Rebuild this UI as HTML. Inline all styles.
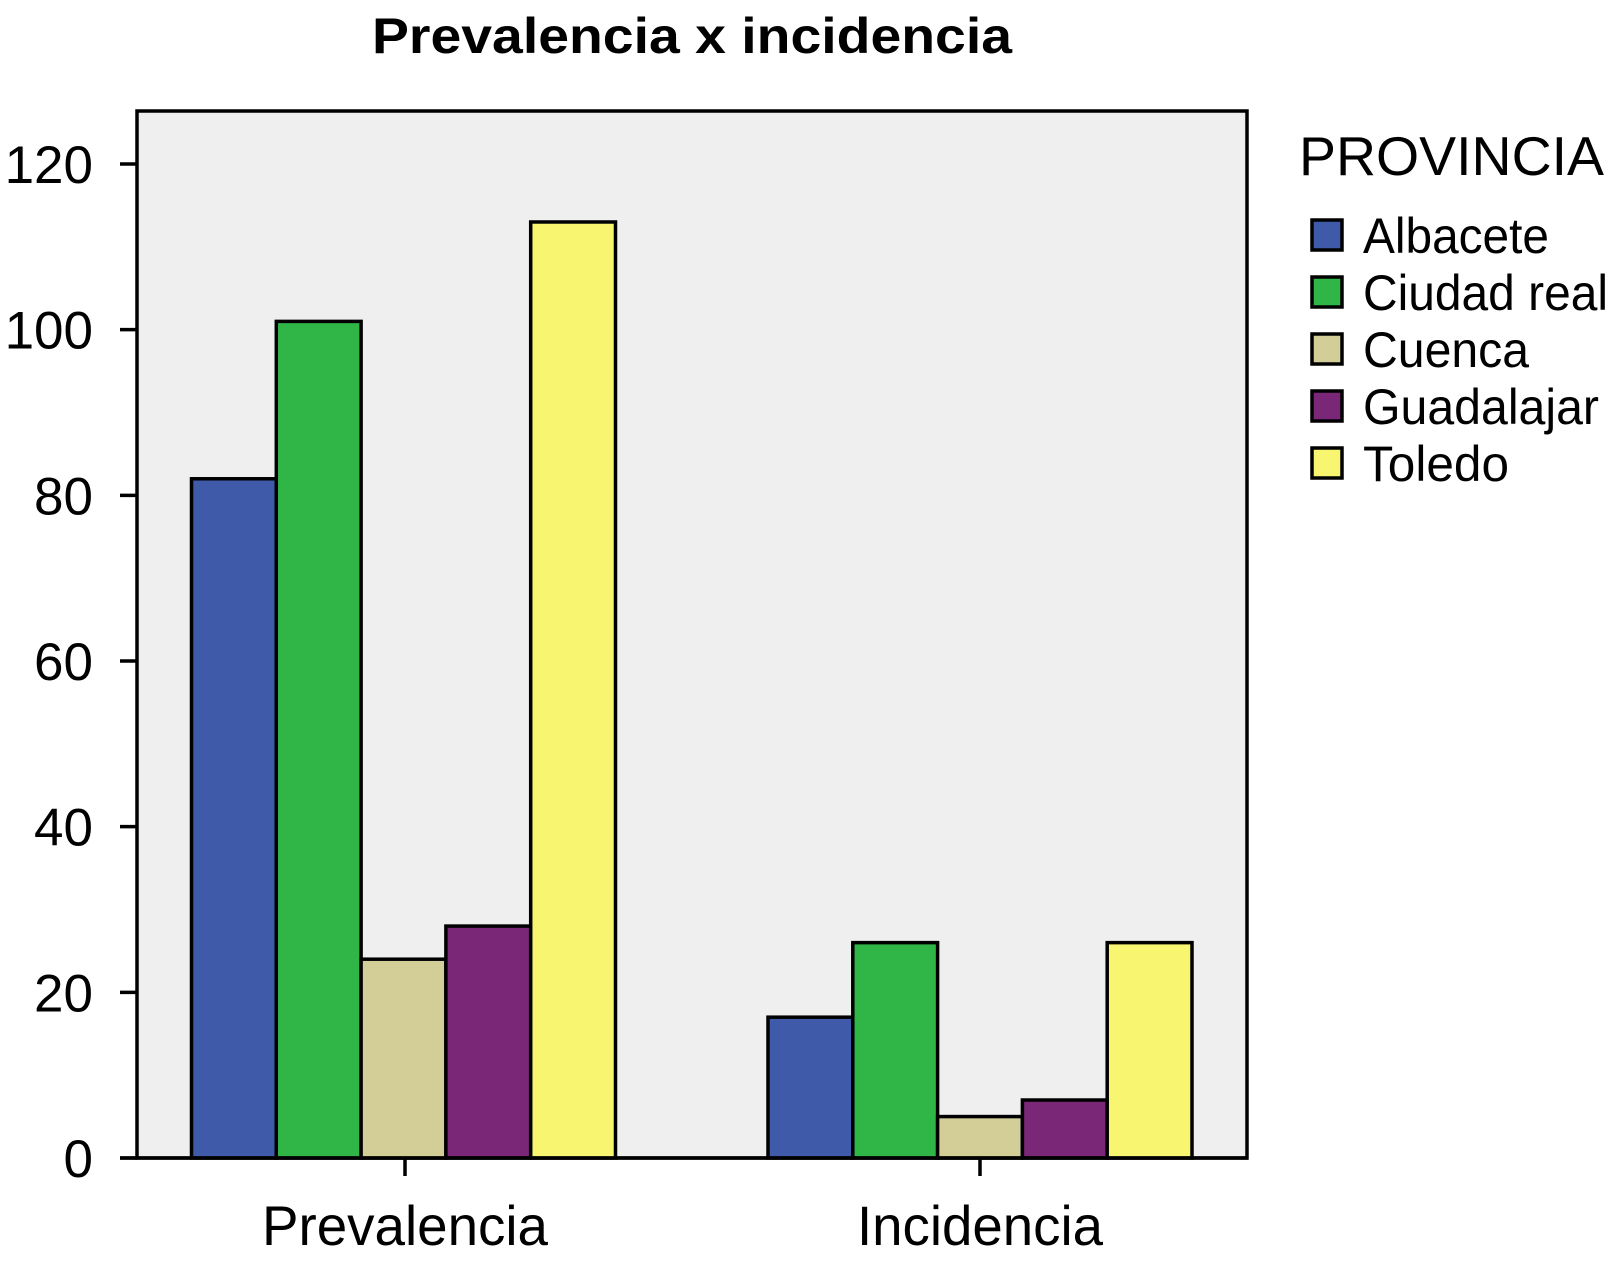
<!DOCTYPE html>
<html><head><meta charset="utf-8"><style>html,body{margin:0;padding:0;background:#fff}svg{display:block}text{font-family:"Liberation Sans",sans-serif;fill:#000}</style></head>
<body>
<svg id="chart" width="1611" height="1271" viewBox="0 0 1611 1271">
<text x="692" y="53" text-anchor="middle" font-size="50" font-weight="bold" textLength="640" lengthAdjust="spacingAndGlyphs">Prevalencia x incidencia</text>
<rect x="137" y="111" width="1110" height="1047" fill="#efefef" stroke="#000" stroke-width="3.5"/>
<g id="bars"></g>
<g id="axes"></g>
<g id="legend"></g>
</svg>
<script>
const categories = ["Prevalencia", "Incidencia"];
const series = ["Albacete", "Ciudad real", "Cuenca", "Guadalajar", "Toledo"];
const colors = ["#3f5aa9", "#30b646", "#d3ce98", "#7b2777", "#f8f570"];
const albacete = [82, 17];
const ciudadReal = [101, 26];
const cuenca = [24, 5];
const guadalajar = [28, 7];
const toledo = [113, 26];
const yTicks = [0, 20, 40, 60, 80, 100, 120];

const NS = "http://www.w3.org/2000/svg";
const values = [albacete, ciudadReal, cuenca, guadalajar, toledo];
const y0 = 1158, pxPerUnit = 994 / 120;
function yScale(v) { return y0 - v * pxPerUnit; }
const groupCenters = [405, 980];
const barW = 84.8;
function xBar(ci, si) { return groupCenters[ci] - barW * series.length / 2 + si * barW - 1.5 * (ci === 0 ? 1 : 0); }
function mk(tag, attrs, parent) {
  const e = document.createElementNS(NS, tag);
  for (const k in attrs) e.setAttribute(k, attrs[k]);
  parent.appendChild(e);
  return e;
}
const bars = document.getElementById("bars");
categories.forEach((c, ci) => {
  series.forEach((s, si) => {
    const v = values[si][ci];
    const r = mk("rect", { x: xBar(ci, si), y: yScale(v), width: barW, height: y0 - yScale(v), fill: colors[si], stroke: "#000", "stroke-width": 3.5 }, bars);
    
    
  });
});
const axes = document.getElementById("axes");
const xl = mk("line", { x1: 120, y1: y0, x2: 1248, y2: y0, stroke: "#000", "stroke-width": 3.5 }, axes);


yTicks.forEach(t => {
  const y = yScale(t);
  const l = mk("line", { x1: 120, y1: y, x2: 137, y2: y, stroke: "#000", "stroke-width": 3.5 }, axes);
  
  
  const tx = mk("text", { x: 93, y: y + 19, "text-anchor": "end", "font-size": 53 }, axes);
  tx.textContent = String(t);
  
  
});
categories.forEach((c, ci) => {
  const x = groupCenters[ci];
  const l = mk("line", { x1: x, y1: y0, x2: x, y2: 1176, stroke: "#000", "stroke-width": 3.5 }, axes);
  
  
  const tx = mk("text", { x: x, y: 1245, "text-anchor": "middle", "font-size": 56, textLength: ci === 0 ? 286 : 246, lengthAdjust: "spacingAndGlyphs" }, axes);
  tx.textContent = c;
  
  
});
const legend = document.getElementById("legend");
const lt = mk("text", { x: 1299, y: 175, "font-size": 55, textLength: 305, lengthAdjust: "spacingAndGlyphs" }, legend);
lt.textContent = "PROVINCIA";


const legendWidths = [186, 245, 166, 236, 146];
series.forEach((s, si) => {
  const top = 220 + si * 57;
  const b = mk("rect", { x: 1312, y: top, width: 30, height: 30, fill: colors[si], stroke: "#000", "stroke-width": 3.5 }, legend);
  
  
  const tx = mk("text", { x: 1363, y: top + 33, "font-size": 50, textLength: legendWidths[si], lengthAdjust: "spacingAndGlyphs" }, legend);
  tx.textContent = s;
  
  
});
</script>
</body></html>
